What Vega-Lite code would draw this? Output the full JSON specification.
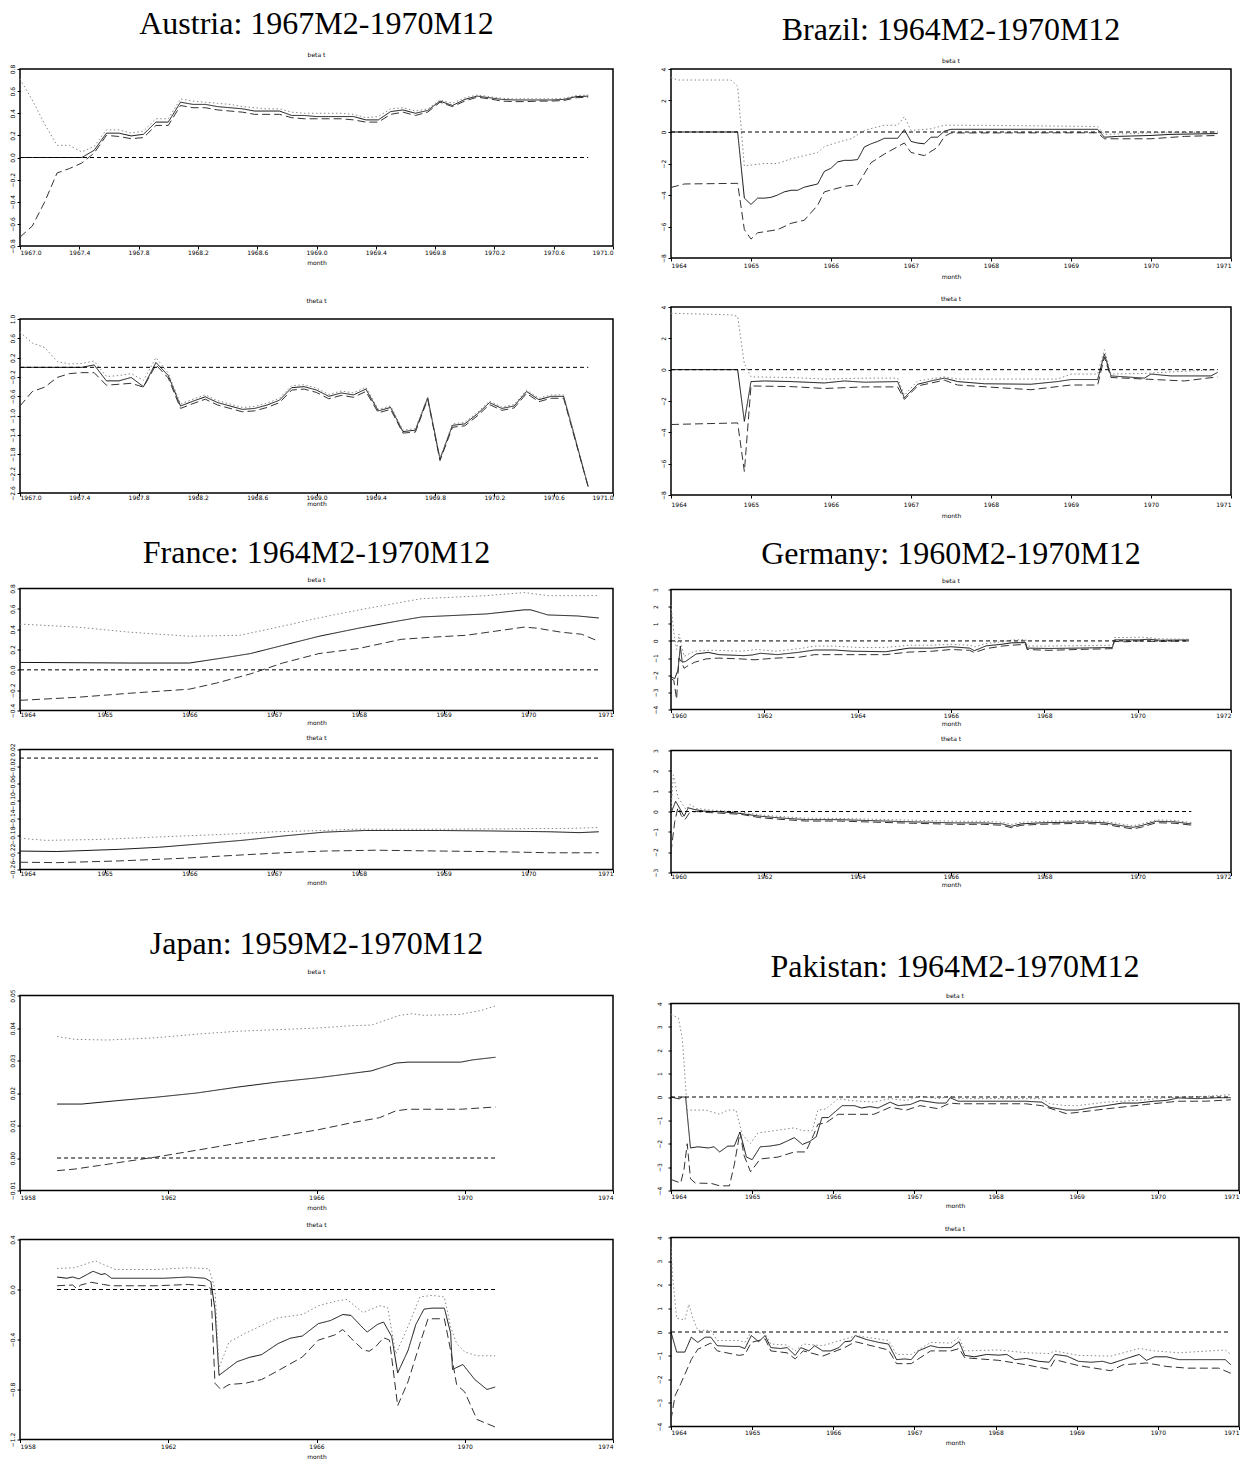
{
"$schema":"https://vega.github.io/schema/vega-lite/v6.json",
"background":"white",
"padding":{"left":8,"top":7,"right":0,"bottom":0},
"config":{
 "view":{"stroke":"#000","strokeWidth":1.5},
 "axis":{"grid":false,"domain":false,"tickSize":3,"tickColor":"#000","labelFont":"DejaVu Sans","labelFontSize":6,"labelColor":"#000","titleFont":"DejaVu Sans","titleFontSize":6,"titleFontWeight":"normal","titleColor":"#000","labelPadding":2,"titlePadding":3,"labelOverlap":false,"labelBound":false},
 "axisY":{"labelAngle":270,"labelAlign":"center","labelBaseline":"bottom"},
 "title":{"color":"#000","fontWeight":"normal","anchor":"middle","frame":"group"},
 "line":{"strokeWidth":1}
},
"datasets":{
"aut_b":[
{"m":1967,"e":0,"u":0.71,"l":-0.72,"z":0},
{"m":1967.083,"e":0,"u":0.52,"l":-0.62},
{"m":1967.167,"e":0,"u":0.3,"l":-0.4},
{"m":1967.25,"e":0,"u":0.11,"l":-0.14},
{"m":1967.333,"e":0,"u":0.11,"l":-0.1},
{"m":1967.417,"e":0,"u":0.05,"l":-0.05},
{"m":1967.5,"e":0.065,"u":0.1,"l":0.04},
{"m":1967.583,"e":0.22,"u":0.25,"l":0.2},
{"m":1967.667,"e":0.22,"u":0.25,"l":0.19},
{"m":1967.75,"e":0.195,"u":0.22,"l":0.17},
{"m":1967.833,"e":0.21,"u":0.24,"l":0.18},
{"m":1967.917,"e":0.32,"u":0.35,"l":0.29},
{"m":1968,"e":0.32,"u":0.35,"l":0.29},
{"m":1968.083,"e":0.5,"u":0.53,"l":0.47},
{"m":1968.167,"e":0.48,"u":0.51,"l":0.45},
{"m":1968.25,"e":0.48,"u":0.5,"l":0.45},
{"m":1968.333,"e":0.46,"u":0.49,"l":0.43},
{"m":1968.417,"e":0.45,"u":0.48,"l":0.42},
{"m":1968.5,"e":0.44,"u":0.46,"l":0.41},
{"m":1968.583,"e":0.42,"u":0.45,"l":0.39},
{"m":1968.667,"e":0.42,"u":0.44,"l":0.39},
{"m":1968.75,"e":0.42,"u":0.44,"l":0.39},
{"m":1968.833,"e":0.38,"u":0.41,"l":0.36},
{"m":1968.917,"e":0.38,"u":0.4,"l":0.35},
{"m":1969,"e":0.37,"u":0.4,"l":0.35},
{"m":1969.083,"e":0.37,"u":0.4,"l":0.35},
{"m":1969.167,"e":0.37,"u":0.4,"l":0.35},
{"m":1969.25,"e":0.37,"u":0.39,"l":0.34},
{"m":1969.333,"e":0.34,"u":0.36,"l":0.32},
{"m":1969.417,"e":0.34,"u":0.37,"l":0.32},
{"m":1969.5,"e":0.415,"u":0.44,"l":0.39},
{"m":1969.583,"e":0.43,"u":0.45,"l":0.41},
{"m":1969.667,"e":0.4,"u":0.42,"l":0.38},
{"m":1969.75,"e":0.425,"u":0.44,"l":0.41},
{"m":1969.833,"e":0.51,"u":0.52,"l":0.5},
{"m":1969.917,"e":0.47,"u":0.49,"l":0.46},
{"m":1970,"e":0.525,"u":0.54,"l":0.51},
{"m":1970.083,"e":0.555,"u":0.565,"l":0.545},
{"m":1970.167,"e":0.54,"u":0.55,"l":0.53},
{"m":1970.25,"e":0.525,"u":0.535,"l":0.51},
{"m":1970.333,"e":0.52,"u":0.53,"l":0.505},
{"m":1970.417,"e":0.52,"u":0.53,"l":0.505},
{"m":1970.5,"e":0.52,"u":0.53,"l":0.51},
{"m":1970.583,"e":0.52,"u":0.53,"l":0.51},
{"m":1970.667,"e":0.525,"u":0.535,"l":0.515},
{"m":1970.75,"e":0.55,"u":0.56,"l":0.54},
{"m":1970.833,"e":0.555,"u":0.565,"l":0.545,"z":0}
],
"aut_t":[
{"m":1967,"e":0,"u":0.73,"l":-0.8,"z":0},
{"m":1967.083,"e":0,"u":0.5,"l":-0.5},
{"m":1967.167,"e":0,"u":0.41,"l":-0.41},
{"m":1967.25,"e":0,"u":0.12,"l":-0.21},
{"m":1967.333,"e":0,"u":0.07,"l":-0.13},
{"m":1967.417,"e":0,"u":0.08,"l":-0.11},
{"m":1967.5,"e":0.05,"u":0.13,"l":-0.11},
{"m":1967.583,"e":-0.28,"u":-0.19,"l":-0.37},
{"m":1967.667,"e":-0.28,"u":-0.17,"l":-0.35},
{"m":1967.75,"e":-0.21,"u":-0.13,"l":-0.33},
{"m":1967.833,"e":-0.4,"u":-0.27,"l":-0.41},
{"m":1967.917,"e":0.1,"u":0.2,"l":0.05},
{"m":1968,"e":-0.17,"u":-0.12,"l":-0.22},
{"m":1968.083,"e":-0.8,"u":-0.76,"l":-0.85},
{"m":1968.167,"e":-0.7,"u":-0.66,"l":-0.75},
{"m":1968.25,"e":-0.61,"u":-0.57,"l":-0.66},
{"m":1968.333,"e":-0.73,"u":-0.69,"l":-0.78},
{"m":1968.417,"e":-0.8,"u":-0.76,"l":-0.85},
{"m":1968.5,"e":-0.87,"u":-0.83,"l":-0.92},
{"m":1968.583,"e":-0.85,"u":-0.81,"l":-0.9},
{"m":1968.667,"e":-0.78,"u":-0.74,"l":-0.83},
{"m":1968.75,"e":-0.68,"u":-0.64,"l":-0.73},
{"m":1968.833,"e":-0.42,"u":-0.38,"l":-0.47},
{"m":1968.917,"e":-0.4,"u":-0.36,"l":-0.45},
{"m":1969,"e":-0.47,"u":-0.43,"l":-0.52},
{"m":1969.083,"e":-0.6,"u":-0.56,"l":-0.65},
{"m":1969.167,"e":-0.53,"u":-0.49,"l":-0.58},
{"m":1969.25,"e":-0.57,"u":-0.53,"l":-0.62},
{"m":1969.333,"e":-0.45,"u":-0.41,"l":-0.5},
{"m":1969.417,"e":-0.9,"u":-0.87,"l":-0.94},
{"m":1969.5,"e":-0.83,"u":-0.8,"l":-0.87},
{"m":1969.583,"e":-1.33,"u":-1.3,"l":-1.36},
{"m":1969.667,"e":-1.3,"u":-1.27,"l":-1.34},
{"m":1969.75,"e":-0.63,"u":-0.61,"l":-0.66},
{"m":1969.833,"e":-1.9,"u":-1.88,"l":-1.93},
{"m":1969.917,"e":-1.2,"u":-1.17,"l":-1.24},
{"m":1970,"e":-1.17,"u":-1.14,"l":-1.21},
{"m":1970.083,"e":-0.97,"u":-0.94,"l":-1.01},
{"m":1970.167,"e":-0.73,"u":-0.7,"l":-0.77},
{"m":1970.25,"e":-0.85,"u":-0.82,"l":-0.89},
{"m":1970.333,"e":-0.8,"u":-0.77,"l":-0.84},
{"m":1970.417,"e":-0.5,"u":-0.47,"l":-0.54},
{"m":1970.5,"e":-0.67,"u":-0.64,"l":-0.71},
{"m":1970.583,"e":-0.6,"u":-0.57,"l":-0.64},
{"m":1970.667,"e":-0.6,"u":-0.57,"l":-0.64},
{"m":1970.833,"e":-2.47,"u":-2.46,"l":-2.48,"z":0}
],
"bra_b":[
{"m":1964,"e":0,"u":3.46,"l":-3.52,"z":0},
{"m":1964.083,"u":3.3},
{"m":1964.167,"l":-3.3},
{"m":1964.75,"u":3.3},
{"m":1964.833,"e":0,"u":2.9,"l":-3.26},
{"m":1964.917,"e":-4.2,"u":-2.16,"l":-6.2},
{"m":1965,"e":-4.6,"u":-2.1,"l":-6.8},
{"m":1965.083,"e":-4.2,"l":-6.4},
{"m":1965.167,"e":-4.2,"u":-2.0},
{"m":1965.25,"e":-4.15},
{"m":1965.333,"e":-4.0,"u":-2.0,"l":-6.2},
{"m":1965.417,"e":-3.8},
{"m":1965.5,"e":-3.7,"u":-1.7,"l":-5.8},
{"m":1965.583,"e":-3.7},
{"m":1965.667,"e":-3.5,"l":-5.6},
{"m":1965.75,"e":-3.4,"u":-1.4},
{"m":1965.833,"e":-3.3,"u":-1.3,"l":-4.65},
{"m":1965.917,"e":-2.5,"u":-0.93,"l":-3.8},
{"m":1966,"e":-2.3},
{"m":1966.083,"e":-1.9,"u":-0.65},
{"m":1966.167,"e":-1.8,"l":-3.45},
{"m":1966.25,"e":-1.8,"u":-0.43},
{"m":1966.333,"e":-1.75,"l":-3.35},
{"m":1966.417,"e":-0.95,"u":0.1},
{"m":1966.5,"e":-0.75,"u":0.22,"l":-1.95},
{"m":1966.583,"e":-0.6},
{"m":1966.667,"e":-0.4,"u":0.43,"l":-1.4},
{"m":1966.75,"e":-0.4},
{"m":1966.833,"e":-0.4,"u":0.43},
{"m":1966.917,"e":0.15,"u":0.97,"l":-0.7},
{"m":1967,"e":-0.6,"u":0.1,"l":-1.3},
{"m":1967.083,"e":-0.7},
{"m":1967.167,"e":-0.75,"l":-1.5},
{"m":1967.25,"e":-0.33,"u":0.2},
{"m":1967.333,"e":-0.33,"l":-0.97},
{"m":1967.417,"e":0.05,"u":0.43,"l":-0.28},
{"m":1967.5,"e":0.17,"l":-0.06},
{"m":1967.583,"u":0.43},
{"m":1968,"u":0.42},
{"m":1969.333,"e":0.17,"u":0.35,"l":-0.05},
{"m":1969.417,"e":-0.33,"u":-0.15,"l":-0.43},
{"m":1969.583,"e":-0.28},
{"m":1970,"e":-0.22,"u":-0.06,"l":-0.43},
{"m":1970.25,"e":-0.15},
{"m":1970.417,"l":-0.28},
{"m":1970.833,"e":-0.1,"u":0.0,"l":-0.22,"z":0}
],
"bra_t":[
{"m":1964,"e":0,"u":3.6,"l":-3.5,"z":0},
{"m":1964.75,"u":3.5},
{"m":1964.833,"e":0,"u":3.4,"l":-3.4},
{"m":1964.917,"e":-3.3,"u":0.37,"l":-6.5},
{"m":1965,"e":-0.76,"u":-0.46,"l":-1.04},
{"m":1965.167,"e":-0.72},
{"m":1965.5,"e":-0.76,"u":-0.5,"l":-1.08},
{"m":1965.917,"e":-0.85,"u":-0.6,"l":-1.2},
{"m":1966.167,"e":-0.72},
{"m":1966.417,"e":-0.8,"u":-0.54,"l":-1.1},
{"m":1966.833,"e":-0.76,"u":-0.54,"l":-1.1},
{"m":1966.917,"e":-1.8,"u":-1.63,"l":-1.9},
{"m":1967.083,"e":-0.93,"u":-0.72,"l":-1.04},
{"m":1967.25,"e":-0.72},
{"m":1967.417,"e":-0.54,"u":-0.46,"l":-0.67},
{"m":1967.583,"e":-0.76,"u":-0.6,"l":-0.98},
{"m":1967.917,"e":-0.9},
{"m":1968.5,"e":-0.93,"l":-1.28},
{"m":1968.833,"e":-0.76,"u":-0.6},
{"m":1969,"e":-0.63,"u":-0.28,"l":-0.98},
{"m":1969.333,"e":-0.63,"u":-0.28,"l":-0.98},
{"m":1969.417,"e":1.0,"u":1.28,"l":0.8},
{"m":1969.5,"e":-0.4,"u":-0.28,"l":-0.5},
{"m":1969.917,"e":-0.54,"u":-0.24,"l":-0.6},
{"m":1970,"e":-0.28},
{"m":1970.25,"e":-0.4},
{"m":1970.417,"u":-0.1,"l":-0.72},
{"m":1970.75,"e":-0.4},
{"m":1970.833,"e":-0.17,"u":0,"l":-0.46,"z":0}
],
"fra_b":[
{"m":1964,"e":0.073,"u":0.45,"l":-0.3,"z":0},
{"m":1964.68,"u":0.42,"l":-0.27},
{"m":1965.3,"e":0.067,"u":0.37,"l":-0.23},
{"m":1966,"e":0.067,"u":0.33,"l":-0.19},
{"m":1966.32,"l":-0.13},
{"m":1966.42,"e":0.12},
{"m":1966.6,"u":0.34},
{"m":1966.72,"e":0.16,"l":-0.04},
{"m":1967.1,"e":0.24,"u":0.43,"l":0.067},
{"m":1967.53,"e":0.33,"l":0.16},
{"m":1967.58,"u":0.52},
{"m":1968,"e":0.41,"l":0.21},
{"m":1968.07,"u":0.6},
{"m":1968.46,"e":0.48},
{"m":1968.5,"l":0.3},
{"m":1968.74,"e":0.52,"u":0.7},
{"m":1968.84,"l":0.32},
{"m":1969,"e":0.53,"u":0.71},
{"m":1969.27,"l":0.34},
{"m":1969.51,"e":0.55,"u":0.73},
{"m":1969.61,"l":0.38},
{"m":1969.95,"e":0.59,"u":0.76,"l":0.42},
{"m":1970.03,"e":0.59},
{"m":1970.1,"l":0.41},
{"m":1970.23,"e":0.54,"u":0.73},
{"m":1970.39,"l":0.37},
{"m":1970.58,"e":0.53},
{"m":1970.63,"l":0.35},
{"m":1970.833,"e":0.51,"u":0.73,"l":0.28,"z":0}
],
"fra_t":[
{"m":1964,"e":-0.217,"u":-0.187,"l":-0.243,"z":0},
{"m":1964.3,"u":-0.192},
{"m":1964.44,"e":-0.218,"l":-0.244},
{"m":1964.92,"u":-0.19},
{"m":1965.17,"e":-0.213,"l":-0.24},
{"m":1965.65,"e":-0.208,"u":-0.184},
{"m":1965.9,"l":-0.234},
{"m":1966.14,"e":-0.2},
{"m":1966.4,"u":-0.178},
{"m":1966.62,"e":-0.192,"l":-0.226},
{"m":1967,"u":-0.172},
{"m":1967.1,"e":-0.182,"l":-0.221},
{"m":1967.58,"e":-0.173,"u":-0.169,"l":-0.217},
{"m":1967.93,"u":-0.166},
{"m":1968.07,"e":-0.169},
{"m":1968.2,"l":-0.215},
{"m":1968.95,"e":-0.169},
{"m":1969,"u":-0.166,"l":-0.217},
{"m":1969.53,"e":-0.17},
{"m":1969.78,"l":-0.219},
{"m":1970.26,"e":-0.172,"l":-0.221},
{"m":1970.5,"u":-0.164},
{"m":1970.6,"e":-0.174},
{"m":1970.833,"e":-0.172,"u":-0.162,"l":-0.221,"z":0}
],
"ger_b":[
{"m":1960,"e":-2.1,"u":2.1,"l":-2.2,"z":0},
{"m":1960.06,"u":0.5,"l":-2.3},
{"m":1960.08,"e":-2.2},
{"m":1960.12,"u":-0.5,"l":-3.4},
{"m":1960.15,"e":-1.7},
{"m":1960.17,"u":0.4,"l":-1.0},
{"m":1960.2,"e":-0.3},
{"m":1960.22,"u":-0.2,"l":-1.2},
{"m":1960.24,"e":-1.24},
{"m":1960.28,"u":-0.9,"l":-1.6},
{"m":1960.31,"e":-1.2},
{"m":1960.33,"l":-1.5},
{"m":1960.5,"u":-0.6,"l":-1.25},
{"m":1960.54,"e":-0.76},
{"m":1960.75,"u":-0.55,"l":-1.05},
{"m":1960.8,"e":-0.67},
{"m":1961,"u":-0.55,"l":-1.0},
{"m":1961.03,"e":-0.8},
{"m":1961.5,"u":-0.6,"l":-1.05},
{"m":1961.56,"e":-0.86},
{"m":1961.74,"e":-0.82},
{"m":1961.8,"l":-1.1},
{"m":1961.83,"u":-0.5},
{"m":1961.92,"e":-0.72},
{"m":1962.25,"u":-0.6,"l":-1.0},
{"m":1962.28,"e":-0.8},
{"m":1962.72,"e":-0.67},
{"m":1962.75,"u":-0.45,"l":-0.95},
{"m":1963.08,"e":-0.53,"u":-0.3,"l":-0.8},
{"m":1963.5,"e":-0.53,"u":-0.3,"l":-0.8},
{"m":1963.88,"e":-0.6},
{"m":1964,"u":-0.38,"l":-0.8},
{"m":1964.6,"e":-0.63,"u":-0.38,"l":-0.8},
{"m":1965.1,"e":-0.42,"u":-0.25,"l":-0.65},
{"m":1965.6,"e":-0.42,"u":-0.25,"l":-0.6},
{"m":1966,"e":-0.34,"u":-0.2,"l":-0.5},
{"m":1966.4,"e":-0.42,"u":-0.25,"l":-0.55},
{"m":1966.5,"e":-0.57,"u":-0.35,"l":-0.68},
{"m":1966.75,"e":-0.29,"u":-0.15,"l":-0.45},
{"m":1967.1,"e":-0.19,"u":-0.05,"l":-0.3},
{"m":1967.3,"e":-0.11,"u":0.05,"l":-0.25},
{"m":1967.6,"e":-0.1,"u":0.08,"l":-0.2},
{"m":1967.63,"e":-0.42,"u":-0.3,"l":-0.5},
{"m":1968.1,"e":-0.44,"u":-0.3,"l":-0.55},
{"m":1968.7,"e":-0.42,"u":-0.28,"l":-0.5},
{"m":1969.46,"e":-0.38,"u":-0.25,"l":-0.45},
{"m":1969.5,"e":0.06,"u":0.2,"l":-0.03},
{"m":1969.75,"e":0.06,"u":0.2,"l":-0.05},
{"m":1970.04,"e":0.06,"u":0.22,"l":0.0},
{"m":1970.22,"e":0.1,"u":0.2,"l":-0.02},
{"m":1970.49,"e":0.04,"u":0.12,"l":-0.03},
{"m":1971.1,"e":0.06,"u":0.1,"l":0.0,"z":0}
],
"ger_t":[
{"m":1960,"e":-0.07,"u":0.0,"l":-2.0,"z":0},
{"m":1960.05,"u":1.8},
{"m":1960.08,"l":-0.5},
{"m":1960.1,"e":0.5},
{"m":1960.15,"u":0.68,"l":0.2},
{"m":1960.2,"e":0.1},
{"m":1960.22,"l":-0.2},
{"m":1960.25,"u":0.35},
{"m":1960.28,"e":-0.23},
{"m":1960.3,"l":-0.4},
{"m":1960.32,"u":0.1},
{"m":1960.37,"e":0.18},
{"m":1960.4,"u":0.35,"l":-0.05},
{"m":1960.5,"e":0.1},
{"m":1960.55,"u":0.15,"l":0.0},
{"m":1960.7,"e":0.02},
{"m":1960.8,"u":0.08,"l":-0.05},
{"m":1961.1,"e":-0.02},
{"m":1961.2,"u":0.02,"l":-0.1},
{"m":1961.4,"e":-0.07},
{"m":1961.5,"u":-0.02,"l":-0.14},
{"m":1961.9,"e":-0.23,"u":-0.17,"l":-0.3},
{"m":1962.3,"e":-0.31,"u":-0.24,"l":-0.38},
{"m":1962.9,"e":-0.4,"u":-0.33,"l":-0.47},
{"m":1963.6,"e":-0.4,"u":-0.34,"l":-0.47},
{"m":1964.3,"e":-0.45,"u":-0.38,"l":-0.52},
{"m":1965.2,"e":-0.51,"u":-0.43,"l":-0.58},
{"m":1966.1,"e":-0.56,"u":-0.48,"l":-0.63},
{"m":1966.7,"e":-0.56,"u":-0.48,"l":-0.63},
{"m":1967.1,"e":-0.61,"u":-0.53,"l":-0.68},
{"m":1967.3,"e":-0.73,"u":-0.64,"l":-0.8},
{"m":1967.5,"e":-0.61,"u":-0.53,"l":-0.68},
{"m":1967.9,"e":-0.56,"u":-0.49,"l":-0.63},
{"m":1968.8,"e":-0.51,"u":-0.44,"l":-0.58},
{"m":1969.3,"e":-0.56,"u":-0.49,"l":-0.63},
{"m":1969.6,"e":-0.68,"u":-0.6,"l":-0.75},
{"m":1969.9,"e":-0.78,"u":-0.7,"l":-0.86},
{"m":1970.1,"e":-0.68,"u":-0.6,"l":-0.76},
{"m":1970.4,"e":-0.48,"u":-0.41,"l":-0.55},
{"m":1970.8,"e":-0.51,"u":-0.44,"l":-0.58},
{"m":1971.15,"e":-0.61,"u":-0.55,"l":-0.67,"z":0}
],
"jap_b":[
{"m":1959,"e":0.0166,"u":0.0374,"l":-0.0039,"z":0},
{"m":1959.48,"u":0.0365,"l":-0.0034},
{"m":1959.67,"e":0.0166},
{"m":1960.14,"l":-0.0023},
{"m":1960.36,"u":0.0363},
{"m":1960.58,"e":0.0176},
{"m":1960.9,"l":-0.001},
{"m":1961.67,"e":0.0187,"u":0.037,"l":0.0003},
{"m":1962.77,"e":0.02,"u":0.0381,"l":0.0024},
{"m":1963.86,"e":0.0218,"u":0.039,"l":0.0045},
{"m":1964.96,"e":0.0234,"u":0.0395,"l":0.0066},
{"m":1966.05,"e":0.0247,"u":0.04,"l":0.0087},
{"m":1966.93,"e":0.026,"u":0.0407,"l":0.0108},
{"m":1967.48,"e":0.0268,"u":0.0409},
{"m":1967.7,"l":0.0124},
{"m":1967.81,"e":0.028},
{"m":1968.14,"e":0.0292,"l":0.0145},
{"m":1968.25,"u":0.0439},
{"m":1968.47,"e":0.0295,"l":0.015},
{"m":1968.58,"u":0.0444},
{"m":1968.9,"u":0.0439},
{"m":1969.89,"e":0.0295,"u":0.0442,"l":0.015},
{"m":1970.22,"e":0.0302},
{"m":1970.44,"u":0.0454},
{"m":1970.83,"e":0.031,"u":0.0468,"l":0.0157,"z":0}
],
"jap_t":[
{"m":1959,"e":0.1,"u":0.168,"l":0.03,"z":0},
{"m":1959.26,"e":0.09},
{"m":1959.42,"e":0.1,"l":0.036},
{"m":1959.48,"u":0.174},
{"m":1959.53,"l":0.008},
{"m":1959.59,"e":0.085},
{"m":1959.64,"l":0.036},
{"m":1959.81,"e":0.12},
{"m":1959.92,"l":0.058},
{"m":1959.97,"e":0.146},
{"m":1960.03,"u":0.23},
{"m":1960.19,"e":0.12},
{"m":1960.25,"u":0.2,"l":0.04},
{"m":1960.3,"e":0.127},
{"m":1960.47,"e":0.09,"l":0.03},
{"m":1960.58,"u":0.16},
{"m":1961.12,"e":0.09},
{"m":1961.67,"u":0.16,"l":0.03},
{"m":1961.89,"e":0.09},
{"m":1962.55,"e":0.1,"u":0.174,"l":0.04},
{"m":1962.99,"e":0.09,"l":0.03},
{"m":1963.1,"u":0.166},
{"m":1963.15,"e":0.063,"l":0.008},
{"m":1963.26,"e":-0.157,"u":0.008,"l":-0.75},
{"m":1963.37,"e":-0.687,"u":-0.626},
{"m":1963.42,"l":-0.8},
{"m":1963.64,"e":-0.626,"u":-0.42,"l":-0.76},
{"m":1963.86,"e":-0.577},
{"m":1964.08,"u":-0.35,"l":-0.75},
{"m":1964.19,"e":-0.543},
{"m":1964.52,"e":-0.521,"l":-0.72},
{"m":1964.96,"e":-0.433,"u":-0.226,"l":-0.65},
{"m":1965.29,"e":-0.39},
{"m":1965.62,"e":-0.372,"u":-0.2,"l":-0.54},
{"m":1966.05,"e":-0.273,"u":-0.13,"l":-0.405},
{"m":1966.38,"e":-0.248},
{"m":1966.49,"l":-0.364},
{"m":1966.6,"u":-0.088},
{"m":1966.71,"e":-0.2,"l":-0.32},
{"m":1966.82,"u":-0.08},
{"m":1966.93,"e":-0.207,"l":-0.39},
{"m":1967.26,"e":-0.31,"u":-0.185,"l":-0.483},
{"m":1967.37,"e":-0.34},
{"m":1967.42,"l":-0.494},
{"m":1967.59,"l":-0.46},
{"m":1967.64,"e":-0.28},
{"m":1967.7,"u":-0.13},
{"m":1967.81,"e":-0.26,"l":-0.386},
{"m":1967.92,"u":-0.143},
{"m":1967.97,"l":-0.405},
{"m":1968.03,"e":-0.378},
{"m":1968.14,"u":-0.516},
{"m":1968.19,"e":-0.667,"l":-0.93},
{"m":1968.47,"e":-0.488,"u":-0.295,"l":-0.737},
{"m":1968.68,"e":-0.28},
{"m":1968.79,"u":-0.06,"l":-0.433},
{"m":1968.9,"e":-0.157},
{"m":1969.01,"l":-0.234},
{"m":1969.12,"e":-0.149,"u":-0.047},
{"m":1969.45,"e":-0.149,"u":-0.06,"l":-0.234},
{"m":1969.62,"e":-0.35,"u":-0.3,"l":-0.488},
{"m":1969.67,"e":-0.64},
{"m":1969.78,"u":-0.433,"l":-0.76},
{"m":1969.95,"e":-0.6},
{"m":1970,"u":-0.5,"l":-0.82},
{"m":1970.27,"e":-0.72},
{"m":1970.33,"u":-0.53,"l":-1.04},
{"m":1970.6,"e":-0.8},
{"m":1970.82,"e":-0.78,"u":-0.53,"l":-1.1,"z":0}
],
"pak_b":[
{"m":1964,"e":0,"u":3.53,"l":-3.53,"z":0},
{"m":1964.06,"e":-0.05},
{"m":1964.09,"u":3.38},
{"m":1964.1,"e":-0.08},
{"m":1964.12,"l":-3.68},
{"m":1964.14,"e":0,"u":2.5},
{"m":1964.16,"l":-3.1},
{"m":1964.18,"e":0},
{"m":1964.2,"u":-0.56,"l":-2.0},
{"m":1964.24,"e":-2.18,"l":-3.5},
{"m":1964.3,"l":-3.68},
{"m":1964.33,"e":-2.13},
{"m":1964.43,"u":-0.56},
{"m":1964.46,"e":-2.18},
{"m":1964.5,"l":-3.7},
{"m":1964.53,"e":-2.13},
{"m":1964.6,"e":-2.35,"u":-0.74,"l":-3.8},
{"m":1964.7,"e":-2.1,"u":-0.56},
{"m":1964.72,"l":-3.8},
{"m":1964.78,"e":-2.1,"l":-2.9},
{"m":1964.8,"u":-0.56},
{"m":1964.85,"e":-1.5,"l":-1.5},
{"m":1964.88,"u":-1.62},
{"m":1964.9,"l":-2.5},
{"m":1964.93,"e":-2.57},
{"m":1964.98,"u":-1.99,"l":-3.2},
{"m":1965,"e":-2.68},
{"m":1965.07,"u":-1.54},
{"m":1965.1,"e":-2.13,"l":-2.65},
{"m":1965.22,"e":-2.1},
{"m":1965.32,"l":-2.57},
{"m":1965.34,"e":-2.03},
{"m":1965.52,"e":-1.74,"u":-1.32,"l":-2.35},
{"m":1965.62,"e":-2.03,"u":-1.44},
{"m":1965.66,"l":-2.35},
{"m":1965.71,"e":-1.9},
{"m":1965.74,"u":-1.44},
{"m":1965.76,"l":-1.6},
{"m":1965.79,"e":-1.7},
{"m":1965.81,"u":-0.56,"l":-1.17},
{"m":1965.86,"e":-0.88},
{"m":1965.91,"u":-0.51,"l":-1.1},
{"m":1965.94,"e":-0.88},
{"m":1966.06,"u":-0.07,"l":-0.74},
{"m":1966.11,"e":-0.37},
{"m":1966.21,"u":-0.15},
{"m":1966.26,"e":-0.37},
{"m":1966.35,"e":-0.47},
{"m":1966.45,"e":-0.41},
{"m":1966.5,"u":-0.22,"l":-0.74},
{"m":1966.55,"e":-0.47},
{"m":1966.7,"e":-0.22,"u":-0.07,"l":-0.44},
{"m":1966.8,"e":-0.37},
{"m":1966.9,"u":-0.15,"l":-0.56},
{"m":1966.95,"e":-0.32},
{"m":1967.07,"e":-0.15,"u":0.03,"l":-0.37},
{"m":1967.29,"e":-0.26,"u":-0.07,"l":-0.5},
{"m":1967.39,"e":-0.26},
{"m":1967.44,"e":-0.03,"u":0.03,"l":-0.26},
{"m":1967.54,"e":-0.18,"u":-0.07,"l":-0.29},
{"m":1968.37,"e":-0.18,"l":-0.29},
{"m":1968.57,"e":-0.22,"u":-0.07,"l":-0.37},
{"m":1968.67,"e":-0.44,"u":-0.29},
{"m":1968.87,"e":-0.56,"u":-0.37,"l":-0.71},
{"m":1969.01,"e":-0.56,"u":-0.37,"l":-0.66},
{"m":1969.21,"e":-0.44},
{"m":1969.36,"e":-0.37,"u":-0.22,"l":-0.51},
{"m":1969.56,"e":-0.26},
{"m":1969.75,"e":-0.26},
{"m":1969.85,"u":-0.12,"l":-0.32},
{"m":1969.95,"e":-0.18},
{"m":1970.1,"e":-0.15,"u":-0.03},
{"m":1970.25,"e":-0.04,"l":-0.18},
{"m":1970.49,"e":-0.07},
{"m":1970.59,"u":0.03,"l":-0.18},
{"m":1970.74,"e":-0.03},
{"m":1970.9,"e":-0.03,"u":0.1,"l":-0.12,"z":0}
],
"pak_t":[
{"m":1964,"e":0,"u":3.58,"l":-3.72,"z":0},
{"m":1964.02,"u":2.34},
{"m":1964.05,"l":-2.7},
{"m":1964.07,"e":-0.85,"u":0.58},
{"m":1964.12,"l":-2.19},
{"m":1964.17,"e":-0.85,"u":0.51},
{"m":1964.22,"u":1.17},
{"m":1964.25,"e":-0.22,"l":-1.17},
{"m":1964.27,"u":0.58},
{"m":1964.33,"e":-0.44,"u":0.07,"l":-0.73},
{"m":1964.42,"e":-0.22},
{"m":1964.49,"e":-0.22,"u":0.07,"l":-0.47},
{"m":1964.57,"e":-0.58,"u":-0.36,"l":-0.8},
{"m":1964.74,"e":-0.61},
{"m":1964.84,"e":-0.61,"u":-0.36,"l":-0.99},
{"m":1964.91,"e":-0.7,"u":-0.44,"l":-0.95},
{"m":1964.99,"e":-0.15,"u":0,"l":-0.44},
{"m":1965.08,"e":-0.41},
{"m":1965.16,"e":-0.15,"u":-0.07,"l":-0.29},
{"m":1965.23,"e":-0.66,"u":-0.51,"l":-0.8},
{"m":1965.35,"e":-0.7},
{"m":1965.43,"e":-0.66,"u":-0.55,"l":-0.88},
{"m":1965.53,"e":-0.99,"u":-0.8,"l":-1.14},
{"m":1965.6,"e":-0.66},
{"m":1965.63,"u":-0.51,"l":-0.8},
{"m":1965.7,"e":-0.8},
{"m":1965.77,"e":-0.58},
{"m":1965.87,"e":-0.8,"u":-0.58,"l":-1.02},
{"m":1965.97,"e":-0.8},
{"m":1966.07,"e":-0.66},
{"m":1966.14,"e":-0.41,"l":-0.66},
{"m":1966.22,"e":-0.38,"u":-0.22},
{"m":1966.27,"e":-0.15,"u":-0.15,"l":-0.41},
{"m":1966.41,"e":-0.32},
{"m":1966.56,"e":-0.44},
{"m":1966.68,"e":-0.51,"u":-0.36,"l":-0.76},
{"m":1966.78,"e":-1.17,"u":-0.95,"l":-1.34},
{"m":1966.88,"e":-1.14},
{"m":1966.96,"e":-1.17,"u":-0.95,"l":-1.34},
{"m":1967.05,"e":-0.8},
{"m":1967.2,"e":-0.58,"u":-0.44,"l":-0.8},
{"m":1967.3,"e":-0.66},
{"m":1967.45,"e":-0.66,"u":-0.47,"l":-0.8},
{"m":1967.55,"e":-0.41,"u":-0.22,"l":-0.7},
{"m":1967.62,"e":-0.99,"u":-0.8,"l":-1.09},
{"m":1967.74,"e":-1.05},
{"m":1967.89,"e":-0.95},
{"m":1968.04,"e":-0.98,"u":-0.76,"l":-1.2},
{"m":1968.14,"e":-0.95},
{"m":1968.24,"e":-1.17},
{"m":1968.38,"e":-1.12,"u":-0.88,"l":-1.39},
{"m":1968.53,"e":-1.24},
{"m":1968.66,"e":-1.28,"u":-0.91,"l":-1.58},
{"m":1968.73,"e":-0.95,"u":-0.8,"l":-1.17},
{"m":1968.88,"e":-1.02},
{"m":1969.02,"e":-1.24,"u":-0.99,"l":-1.42},
{"m":1969.17,"e":-1.28},
{"m":1969.32,"e":-1.24},
{"m":1969.42,"e":-1.34,"u":-1.02,"l":-1.64},
{"m":1969.57,"e":-1.17,"l":-1.39},
{"m":1969.77,"e":-0.95,"u":-0.7},
{"m":1969.86,"e":-1.2,"l":-1.31},
{"m":1969.96,"e":-1.05,"u":-0.8},
{"m":1970.11,"e":-1.05,"l":-1.46},
{"m":1970.26,"e":-1.17,"u":-0.88},
{"m":1970.36,"l":-1.53},
{"m":1970.75,"l":-1.53},
{"m":1970.83,"e":-1.17,"u":-0.76},
{"m":1970.9,"e":-1.39,"u":-0.95,"l":-1.75,"z":0}
]
},
"hconcat":[
{"spacing":39.5,"vconcat":[
 {"spacing":28.5,"vconcat":[
  {"spacing":31,"vconcat":[
   {"width":593,"height":177,
    "title":{"text":"Austria: 1967M2-1970M12","subtitle":"beta t","font":"Liberation Serif","fontSize":32,"subtitleFont":"DejaVu Sans","subtitleFontSize":6,"subtitleColor":"#000","subtitlePadding":11,"offset":5},
    "data":{"name":"aut_b"},
    "transform":[{"fold":["e","u","l","z"],"as":["s","v"]},{"filter":"isValid(datum.v)"}],
    "mark":{"type":"line","clip":true},
    "encoding":{
     "x":{"field":"m","type":"quantitative","title":"month","scale":{"domain":[1967,1971],"nice":false,"zero":false},"axis":{"values":[1967,1967.4,1967.8,1968.2,1968.6,1969,1969.4,1969.8,1970.2,1970.6,1971],"format":".1f","labelPadding":0,"titlePadding":4}},
     "y":{"field":"v","type":"quantitative","title":null,"scale":{"domain":[-0.8,0.8],"nice":false,"zero":false},"axis":{"values":[-0.8,-0.6,-0.4,-0.2,0,0.2,0.4,0.6,0.8],"format":".1f"}},
     "color":{"field":"s","type":"nominal","legend":null,"scale":{"domain":["e","u","l","z"],"range":["#111","#888","#333","#000"]}},
     "strokeDash":{"field":"s","type":"nominal","legend":null,"scale":{"domain":["e","u","l","z"],"range":[[1,0],[1.5,2.5],[8,4],[4,3]]}}}},
   {"width":593,"height":174,
    "title":{"text":"theta t","font":"DejaVu Sans","fontSize":6,"offset":10},
    "data":{"name":"aut_t"},
    "transform":[{"fold":["e","u","l","z"],"as":["s","v"]},{"filter":"isValid(datum.v)"}],
    "mark":{"type":"line","clip":true},
    "encoding":{
     "x":{"field":"m","type":"quantitative","title":"month","scale":{"domain":[1967,1971],"nice":false,"zero":false},"axis":{"values":[1967,1967.4,1967.8,1968.2,1968.6,1969,1969.4,1969.8,1970.2,1970.6,1971],"format":".1f","labelPadding":-2,"titlePadding":0}},
     "y":{"field":"v","type":"quantitative","title":null,"scale":{"domain":[-2.6,1],"nice":false,"zero":false},"axis":{"values":[-2.6,-2.2,-1.8,-1.4,-1,-0.6,-0.2,0.2,0.6,1],"format":".1f"}},
     "color":{"field":"s","type":"nominal","legend":null,"scale":{"domain":["e","u","l","z"],"range":["#111","#888","#333","#000"]}},
     "strokeDash":{"field":"s","type":"nominal","legend":null,"scale":{"domain":["e","u","l","z"],"range":[[1,0],[1.5,2.5],[8,4],[4,3]]}}}}
  ]},
  {"spacing":7,"vconcat":[
   {"width":593,"height":122,
    "title":{"text":"France: 1964M2-1970M12","subtitle":"beta t","font":"Liberation Serif","fontSize":32,"subtitleFont":"DejaVu Sans","subtitleFontSize":6,"subtitleColor":"#000","subtitlePadding":7,"offset":0},
    "data":{"name":"fra_b"},
    "transform":[{"fold":["e","u","l","z"],"as":["s","v"]},{"filter":"isValid(datum.v)"}],
    "mark":{"type":"line","clip":true},
    "encoding":{
     "x":{"field":"m","type":"quantitative","title":"month","scale":{"domain":[1964,1971],"nice":false,"zero":false},"axis":{"values":[1964,1965,1966,1967,1968,1969,1970,1971],"format":"d","labelPadding":-2,"titlePadding":2}},
     "y":{"field":"v","type":"quantitative","title":null,"scale":{"domain":[-0.4,0.8],"nice":false,"zero":false},"axis":{"values":[-0.4,-0.2,0,0.2,0.4,0.6,0.8],"format":".1f"}},
     "color":{"field":"s","type":"nominal","legend":null,"scale":{"domain":["e","u","l","z"],"range":["#111","#888","#333","#000"]}},
     "strokeDash":{"field":"s","type":"nominal","legend":null,"scale":{"domain":["e","u","l","z"],"range":[[1,0],[1.5,2.5],[8,4],[4,3]]}}}},
   {"width":593,"height":120,
    "title":{"text":"theta t","font":"DejaVu Sans","fontSize":6,"offset":2},
    "data":{"name":"fra_t"},
    "transform":[{"fold":["e","u","l","z"],"as":["s","v"]},{"filter":"isValid(datum.v)"}],
    "mark":{"type":"line","clip":true},
    "encoding":{
     "x":{"field":"m","type":"quantitative","title":"month","scale":{"domain":[1964,1971],"nice":false,"zero":false},"axis":{"values":[1964,1965,1966,1967,1968,1969,1970,1971],"format":"d","labelPadding":-2,"titlePadding":3}},
     "y":{"field":"v","type":"quantitative","title":null,"scale":{"domain":[-0.26,0.02],"nice":false,"zero":false},"axis":{"values":[-0.26,-0.22,-0.18,-0.14,-0.1,-0.06,-0.02,0.02],"format":".2f"}},
     "color":{"field":"s","type":"nominal","legend":null,"scale":{"domain":["e","u","l","z"],"range":["#111","#888","#333","#000"]}},
     "strokeDash":{"field":"s","type":"nominal","legend":null,"scale":{"domain":["e","u","l","z"],"range":[[1,0],[1.5,2.5],[8,4],[4,3]]}}}}
  ]}
 ]},
 {"spacing":9,"vconcat":[
  {"width":593,"height":195,
   "title":{"text":"Japan: 1959M2-1970M12","subtitle":"beta t","font":"Liberation Serif","fontSize":32,"subtitleFont":"DejaVu Sans","subtitleFontSize":6,"subtitleColor":"#000","subtitlePadding":8,"offset":13},
   "data":{"name":"jap_b"},
   "transform":[{"fold":["e","u","l","z"],"as":["s","v"]},{"filter":"isValid(datum.v)"}],
   "mark":{"type":"line","clip":true},
   "encoding":{
    "x":{"field":"m","type":"quantitative","title":"month","scale":{"domain":[1958,1974],"nice":false,"zero":false},"axis":{"values":[1958,1962,1966,1970,1974],"format":"d","labelPadding":1,"titlePadding":4}},
    "y":{"field":"v","type":"quantitative","title":null,"scale":{"domain":[-0.01,0.05],"nice":false,"zero":false},"axis":{"values":[-0.01,0,0.01,0.02,0.03,0.04,0.05],"format":".2f"}},
    "color":{"field":"s","type":"nominal","legend":null,"scale":{"domain":["e","u","l","z"],"range":["#111","#888","#333","#000"]}},
    "strokeDash":{"field":"s","type":"nominal","legend":null,"scale":{"domain":["e","u","l","z"],"range":[[1,0],[1.5,2.5],[8,4],[4,3]]}}}},
  {"width":593,"height":200,
   "title":{"text":"theta t","font":"DejaVu Sans","fontSize":6,"offset":7},
   "data":{"name":"jap_t"},
   "transform":[{"fold":["e","u","l","z"],"as":["s","v"]},{"filter":"isValid(datum.v)"}],
   "mark":{"type":"line","clip":true},
   "encoding":{
    "x":{"field":"m","type":"quantitative","title":"month","scale":{"domain":[1958,1974],"nice":false,"zero":false},"axis":{"values":[1958,1962,1966,1970,1974],"format":"d","labelPadding":1,"titlePadding":4}},
    "y":{"field":"v","type":"quantitative","title":null,"scale":{"domain":[-1.2,0.4],"nice":false,"zero":false},"axis":{"values":[-1.2,-0.8,-0.4,0,0.4],"format":".1f"}},
    "color":{"field":"s","type":"nominal","legend":null,"scale":{"domain":["e","u","l","z"],"range":["#111","#888","#333","#000"]}},
    "strokeDash":{"field":"s","type":"nominal","legend":null,"scale":{"domain":["e","u","l","z"],"range":[[1,0],[1.5,2.5],[8,4],[4,3]]}}}}
 ]}
]},
{"spacing":60.5,"vconcat":[
 {"spacing":17.5,"vconcat":[
  {"spacing":15,"vconcat":[
   {"width":560,"height":189,
    "title":{"text":"Brazil: 1964M2-1970M12","subtitle":"beta t","font":"Liberation Serif","fontSize":32,"subtitleFont":"DejaVu Sans","subtitleFontSize":6,"subtitleColor":"#000","subtitlePadding":11,"offset":2},
    "data":{"name":"bra_b"},
    "transform":[{"fold":["e","u","l","z"],"as":["s","v"]},{"filter":"isValid(datum.v)"}],
    "mark":{"type":"line","clip":true},
    "encoding":{
     "x":{"field":"m","type":"quantitative","title":"month","scale":{"domain":[1964,1971],"nice":false,"zero":false},"axis":{"values":[1964,1965,1966,1967,1968,1969,1970,1971],"format":"d","labelPadding":1,"titlePadding":5}},
     "y":{"field":"v","type":"quantitative","title":null,"scale":{"domain":[-8,4],"nice":false,"zero":false},"axis":{"values":[-8,-6,-4,-2,0,2,4],"format":"d"}},
     "color":{"field":"s","type":"nominal","legend":null,"scale":{"domain":["e","u","l","z"],"range":["#111","#888","#333","#000"]}},
     "strokeDash":{"field":"s","type":"nominal","legend":null,"scale":{"domain":["e","u","l","z"],"range":[[1,0],[1.5,2.5],[8,4],[4,3]]}}}},
   {"width":560,"height":188,
    "title":{"text":"theta t","font":"DejaVu Sans","fontSize":6,"offset":3},
    "data":{"name":"bra_t"},
    "transform":[{"fold":["e","u","l","z"],"as":["s","v"]},{"filter":"isValid(datum.v)"}],
    "mark":{"type":"line","clip":true},
    "encoding":{
     "x":{"field":"m","type":"quantitative","title":"month","scale":{"domain":[1964,1971],"nice":false,"zero":false},"axis":{"values":[1964,1965,1966,1967,1968,1969,1970,1971],"format":"d","labelPadding":3,"titlePadding":5}},
     "y":{"field":"v","type":"quantitative","title":null,"scale":{"domain":[-8,4],"nice":false,"zero":false},"axis":{"values":[-8,-6,-4,-2,0,2,4],"format":"d"}},
     "color":{"field":"s","type":"nominal","legend":null,"scale":{"domain":["e","u","l","z"],"range":["#111","#888","#333","#000"]}},
     "strokeDash":{"field":"s","type":"nominal","legend":null,"scale":{"domain":["e","u","l","z"],"range":[[1,0],[1.5,2.5],[8,4],[4,3]]}}}}
  ]},
  {"spacing":7,"vconcat":[
   {"width":560,"height":120,
    "title":{"text":"Germany: 1960M2-1970M12","subtitle":"beta t","font":"Liberation Serif","fontSize":32,"subtitleFont":"DejaVu Sans","subtitleFontSize":6,"subtitleColor":"#000","subtitlePadding":7,"offset":3},
    "data":{"name":"ger_b"},
    "transform":[{"fold":["e","u","l","z"],"as":["s","v"]},{"filter":"isValid(datum.v)"}],
    "mark":{"type":"line","clip":true},
    "encoding":{
     "x":{"field":"m","type":"quantitative","title":"month","scale":{"domain":[1960,1972],"nice":false,"zero":false},"axis":{"values":[1960,1962,1964,1966,1968,1970,1972],"format":"d","labelPadding":0,"titlePadding":2}},
     "y":{"field":"v","type":"quantitative","title":null,"scale":{"domain":[-4,3],"nice":false,"zero":false},"axis":{"values":[-4,-3,-2,-1,0,1,2,3],"format":"d","labelPadding":10}},
     "color":{"field":"s","type":"nominal","legend":null,"scale":{"domain":["e","u","l","z"],"range":["#111","#888","#333","#000"]}},
     "strokeDash":{"field":"s","type":"nominal","legend":null,"scale":{"domain":["e","u","l","z"],"range":[[1,0],[1.5,2.5],[8,4],[4,3]]}}}},
   {"width":560,"height":122,
    "title":{"text":"theta t","font":"DejaVu Sans","fontSize":6,"offset":7},
    "data":{"name":"ger_t"},
    "transform":[{"fold":["e","u","l","z"],"as":["s","v"]},{"filter":"isValid(datum.v)"}],
    "mark":{"type":"line","clip":true},
    "encoding":{
     "x":{"field":"m","type":"quantitative","title":"month","scale":{"domain":[1960,1972],"nice":false,"zero":false},"axis":{"values":[1960,1962,1964,1966,1968,1970,1972],"format":"d","labelPadding":-2,"titlePadding":2}},
     "y":{"field":"v","type":"quantitative","title":null,"scale":{"domain":[-3,3],"nice":false,"zero":false},"axis":{"values":[-3,-2,-1,0,1,2,3],"format":"d","labelPadding":10}},
     "color":{"field":"s","type":"nominal","legend":null,"scale":{"domain":["e","u","l","z"],"range":["#111","#888","#333","#000"]}},
     "strokeDash":{"field":"s","type":"nominal","legend":null,"scale":{"domain":["e","u","l","z"],"range":[[1,0],[1.5,2.5],[8,4],[4,3]]}}}}
  ]}
 ]},
 {"spacing":15,"vconcat":[
  {"width":568,"height":187,
   "title":{"text":"Pakistan: 1964M2-1970M12","subtitle":"beta t","font":"Liberation Serif","fontSize":32,"subtitleFont":"DejaVu Sans","subtitleFontSize":6,"subtitleColor":"#000","subtitlePadding":9,"offset":2},
   "data":{"name":"pak_b"},
   "transform":[{"fold":["e","u","l","z"],"as":["s","v"]},{"filter":"isValid(datum.v)"}],
   "mark":{"type":"line","clip":true},
   "encoding":{
    "x":{"field":"m","type":"quantitative","title":"month","scale":{"domain":[1964,1971],"nice":false,"zero":false},"axis":{"values":[1964,1965,1966,1967,1968,1969,1970,1971],"format":"d","labelPadding":0,"titlePadding":3}},
    "y":{"field":"v","type":"quantitative","title":null,"scale":{"domain":[-4,4],"nice":false,"zero":false},"axis":{"values":[-4,-3,-2,-1,0,1,2,3,4],"format":"d","labelPadding":6}},
    "color":{"field":"s","type":"nominal","legend":null,"scale":{"domain":["e","u","l","z"],"range":["#111","#888","#333","#000"]}},
    "strokeDash":{"field":"s","type":"nominal","legend":null,"scale":{"domain":["e","u","l","z"],"range":[[1,0],[1.5,2.5],[8,4],[4,3]]}}}},
  {"width":568,"height":189,
   "title":{"text":"theta t","font":"DejaVu Sans","fontSize":6,"offset":4},
   "data":{"name":"pak_t"},
   "transform":[{"fold":["e","u","l","z"],"as":["s","v"]},{"filter":"isValid(datum.v)"}],
   "mark":{"type":"line","clip":true},
   "encoding":{
    "x":{"field":"m","type":"quantitative","title":"month","scale":{"domain":[1964,1971],"nice":false,"zero":false},"axis":{"values":[1964,1965,1966,1967,1968,1969,1970,1971],"format":"d","labelPadding":0,"titlePadding":4}},
    "y":{"field":"v","type":"quantitative","title":null,"scale":{"domain":[-4,4],"nice":false,"zero":false},"axis":{"values":[-4,-3,-2,-1,0,1,2,3,4],"format":"d","labelPadding":6}},
    "color":{"field":"s","type":"nominal","legend":null,"scale":{"domain":["e","u","l","z"],"range":["#111","#888","#333","#000"]}},
    "strokeDash":{"field":"s","type":"nominal","legend":null,"scale":{"domain":["e","u","l","z"],"range":[[1,0],[1.5,2.5],[8,4],[4,3]]}}}}
 ]}
]}
],
"spacing":36
}
